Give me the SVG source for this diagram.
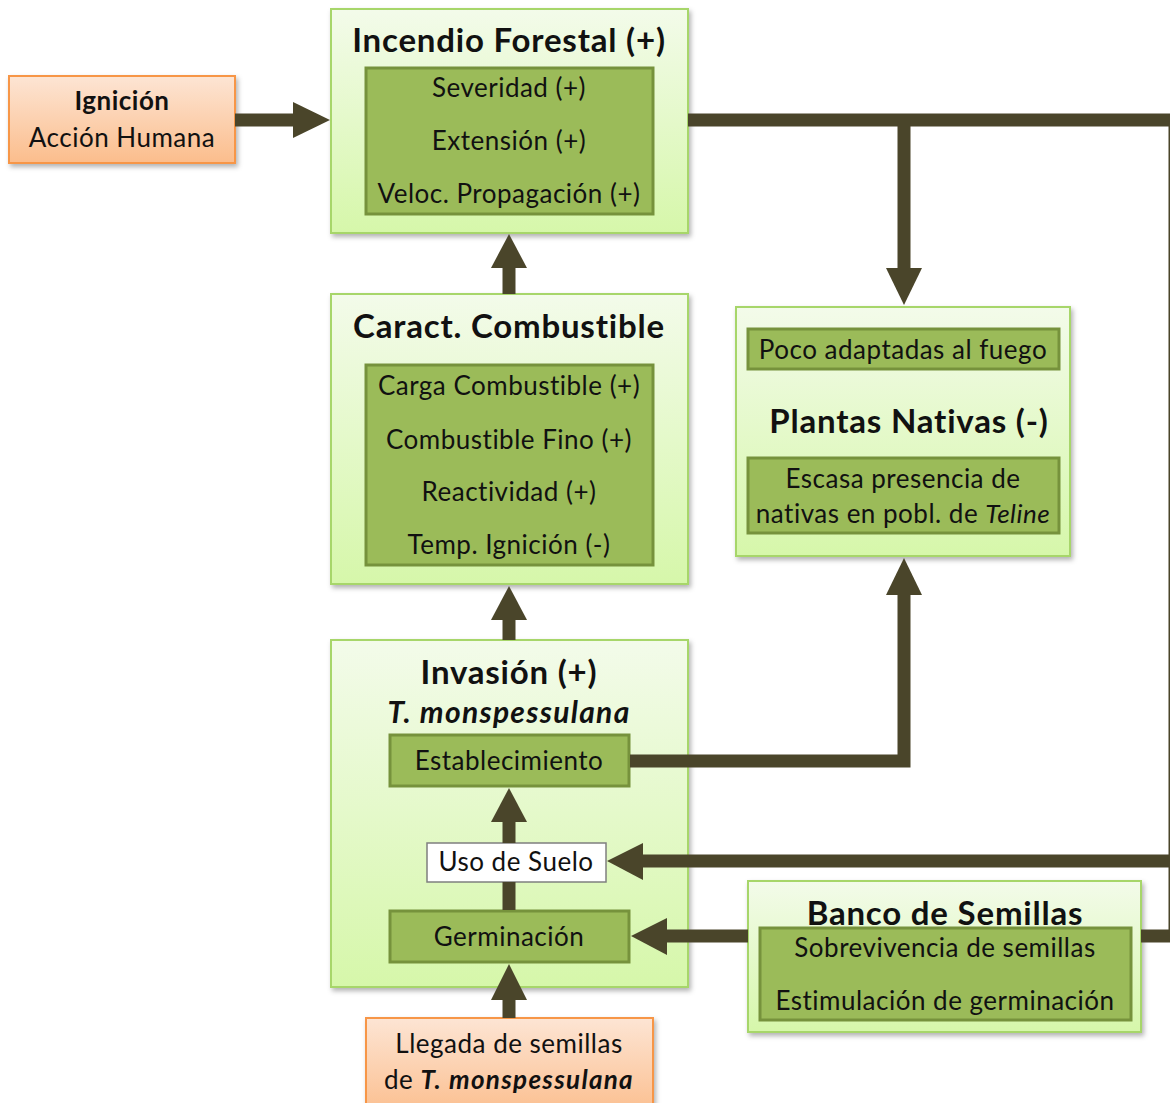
<svg xmlns="http://www.w3.org/2000/svg" width="1170" height="1103" viewBox="0 0 1170 1103">
<defs>
<linearGradient id="gGreen" x1="0" y1="0" x2="0" y2="1">
<stop offset="0" stop-color="#f3fbea"/>
<stop offset="1" stop-color="#d6f7aa"/>
</linearGradient>
<linearGradient id="gOrange" x1="0" y1="0" x2="0" y2="1">
<stop offset="0" stop-color="#fde5d4"/>
<stop offset="1" stop-color="#fbbd8c"/>
</linearGradient>
<filter id="sh" x="-10%" y="-10%" width="120%" height="130%">
<feDropShadow dx="2" dy="3" stdDeviation="2.5" flood-color="#000" flood-opacity="0.3"/>
</filter>
</defs>
<style>
.outer{fill:url(#gGreen);stroke:#a7d66a;stroke-width:2;filter:url(#sh)}
.inner{fill:#9bbb59;stroke:#76923c;stroke-width:3}
.orange{fill:url(#gOrange);stroke:#f79646;stroke-width:2;filter:url(#sh)}
.white{fill:#ffffff;stroke:#7f7f7f;stroke-width:1.5}
text{font-family:Lato,"Liberation Sans",sans-serif;fill:#111;text-anchor:middle}
.t{font-size:33px;font-weight:bold;letter-spacing:0.8px}
.s{font-size:26px;letter-spacing:0.5px}
.b{font-weight:bold}
.i{font-style:italic}
.bi{font-weight:bold;font-style:italic;letter-spacing:1.3px}
.con{stroke:#4a452a;stroke-width:13;fill:none}
.head{fill:#4a452a}
</style>

<g id="ignicion">
<rect class="orange" x="9" y="76" width="226" height="87"/>
<text class="s b" x="122" y="110">Ignición</text>
<text class="s" x="122" y="147">Acción Humana</text>
</g>

<g id="incendio">
<rect class="outer" x="331" y="9" width="357" height="224"/>
<text class="t" x="509" y="52">Incendio Forestal (+)</text>
<rect class="inner" x="366" y="68" width="287" height="146"/>
<text class="s" x="509" y="97">Severidad (+)</text>
<text class="s" x="509" y="150">Extensión (+)</text>
<text class="s" x="509" y="203">Veloc. Propagación (+)</text>
</g>

<g id="combustible">
<rect class="outer" x="331" y="294" width="357" height="290"/>
<text class="t" x="509" y="338">Caract. Combustible</text>
<rect class="inner" x="366" y="365" width="287" height="200"/>
<text class="s" x="509" y="395">Carga Combustible (+)</text>
<text class="s" x="509" y="449">Combustible Fino (+)</text>
<text class="s" x="509" y="501">Reactividad (+)</text>
<text class="s" x="509" y="554">Temp. Ignición (-)</text>
</g>

<g id="nativas">
<rect class="outer" x="736" y="307" width="334" height="249"/>
<rect class="inner" x="748" y="329" width="311" height="40"/>
<text class="s" x="903" y="359">Poco adaptadas al fuego</text>
<text class="t" x="909" y="433">Plantas Nativas (-)</text>
<rect class="inner" x="748" y="458" width="311" height="75"/>
<text class="s" x="903" y="488">Escasa presencia de</text>
<text class="s" x="903" y="523">nativas en pobl. de <tspan class="i">Teline</tspan></text>
</g>

<g id="invasion">
<rect class="outer" x="331" y="640" width="357" height="347"/>
<text class="t" x="509" y="684">Invasión (+)</text>
<text class="bi" x="509" y="723" style="font-size:30px">T. monspessulana</text>
<rect class="inner" x="390" y="735" width="239" height="51"/>
<text class="s" x="509" y="770">Establecimiento</text>
<rect class="white" x="427" y="843" width="179" height="39"/>
<text class="s" x="516" y="871">Uso de Suelo</text>
<rect class="inner" x="390" y="911" width="239" height="51"/>
<text class="s" x="509" y="946">Germinación</text>
</g>

<g id="banco">
<rect class="outer" x="748" y="881" width="393" height="151"/>
<text class="t" x="945" y="925">Banco de Semillas</text>
<rect class="inner" x="760" y="928" width="371" height="92"/>
<text class="s" x="945" y="957">Sobrevivencia de semillas</text>
<text class="s" x="945" y="1010">Estimulación de germinación</text>
</g>

<g id="llegada">
<rect class="orange" x="366" y="1018" width="287" height="100"/>
<text class="s" x="509" y="1053">Llegada de semillas</text>
<text class="s" x="509" y="1089">de <tspan class="bi">T. monspessulana</tspan></text>
</g>

<g id="connectors">
<path class="con" d="M235 120 H298"/>
<polygon class="head" points="330,120 293,102 293,138"/>
<path class="con" d="M688 120 H1170"/>
<path class="con" d="M904 120 V272"/>
<polygon class="head" points="904,305 886,268 922,268"/>
<path class="con" d="M1175 114 V942"/>
<path class="con" d="M509 294 V264"/>
<polygon class="head" points="509,234 491,268 527,268"/>
<path class="con" d="M509 640 V616"/>
<polygon class="head" points="509,586 491,620 527,620"/>
<path class="con" d="M630 761 H904 V592"/>
<polygon class="head" points="904,558 886,595 922,595"/>
<path class="con" d="M509 843 V816"/>
<polygon class="head" points="509,788 491,822 527,822"/>
<path class="con" d="M509 910 V882"/>
<path class="con" d="M509 1018 V996"/>
<polygon class="head" points="509,964 491,1000 527,1000"/>
<path class="con" d="M1170 861 H640"/>
<polygon class="head" points="607,861 643,843 643,880"/>
<path class="con" d="M748 936 H664"/>
<polygon class="head" points="631,936 667,918 667,955"/>
<path class="con" d="M1141 936 H1170"/>
</g>
</svg>
